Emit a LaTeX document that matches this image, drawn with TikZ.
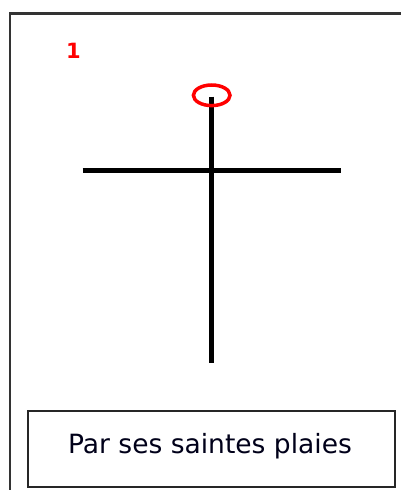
\documentclass[tikz,border=0pt]{standalone}
\usepackage{fontspec}
\setmainfont{DejaVu Sans}
\tikzset{
  frameline/.style={draw=black!80, line width=2.2pt},
  crossbar/.style={draw=black, line width=5pt},
  wound/.style={draw=red, line width=3.5pt},
  stepnum/.style={text=red, font=\fontsize{21}{22}\selectfont\bfseries, inner sep=0pt},
  caption/.style={rectangle, draw=black!85, line width=1.3pt,
                  minimum width=367pt, minimum height=76pt},
  captext/.style={font=\fontsize{26.5}{30}\selectfont, text=black!90!blue}
}
\begin{document}
\begin{tikzpicture}[x=1pt, y=-1pt]
  \useasboundingbox (0,0) rectangle (401,490);

  % outer frame (only top and left edges visible)
  \draw[frameline] (10,500) -- (10,13.5) -- (410,13.5);

  % step number
  \node[stepnum, anchor=base] (num) at (73.5,58.3) {1};

  % the cross
  \coordinate (top) at (211,96.5);
  \coordinate (foot) at (211,363);
  \coordinate (armL) at (82.5,170.5);
  \coordinate (armR) at (341,170.5);
  \draw[crossbar] (top) -- (foot);
  \draw[crossbar] (armL) -- (armR);

  % marked wound on the top of the cross
  \draw[wound] (211.7,95.3) ellipse (18.3pt and 10.3pt);

  % caption
  \node[caption] (cap) at (211.5,449) {};
  \node[captext, anchor=base] (label) at (210,453.3) {Par ses saintes plaies};
\end{tikzpicture}
\end{document}
